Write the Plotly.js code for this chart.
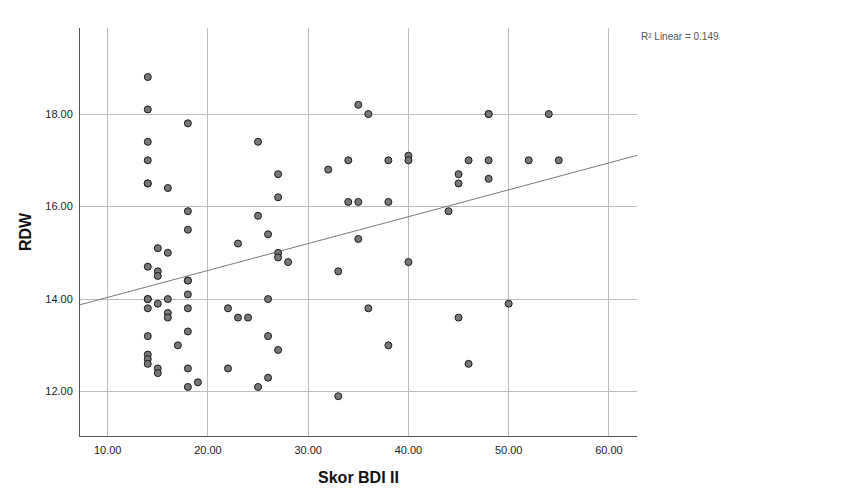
<!DOCTYPE html>
<html>
<head>
<meta charset="utf-8">
<script src="https://cdn.plot.ly/plotly-3.0.1.min.js"></script>
<style>
  body { margin: 0; background: #fff; }
  #chart { width: 851px; height: 501px; }
</style>
</head>
<body>
<div id="chart"></div>
<script>
// Skor BDI II vs RDW, one point per respondent
const skorBDI = [
    14, 14, 14, 14, 14, 14, 14, 14, 14, 14, 14, 14, 14, 14,
    15, 15, 15, 15, 15, 15,
    16, 16, 16, 16, 16,
    17,
    18, 18, 18, 18, 18, 18, 18, 18, 18, 18,
    19,
    22, 22,
    23, 23,
    24,
    25, 25, 25,
    26, 26, 26, 26,
    27, 27, 27, 27, 27,
    28,
    32,
    33, 33,
    34, 34,
    35, 35, 35,
    36, 36,
    38, 38, 38,
    40, 40, 40,
    44,
    45, 45, 45,
    46, 46,
    48, 48, 48, 48,
    50,
    52,
    54,
    55
];
const rdw = [
    18.8, 18.1, 17.4, 17.0, 16.5, 16.5, 14.7, 14.0, 14.0, 13.8, 13.2, 12.8, 12.7, 12.6,
    15.1, 14.6, 14.5, 13.9, 12.5, 12.4,
    16.4, 15.0, 14.0, 13.7, 13.6,
    13.0,
    17.8, 15.9, 15.5, 14.4, 14.4, 14.1, 13.8, 13.3, 12.5, 12.1,
    12.2,
    13.8, 12.5,
    15.2, 13.6,
    13.6,
    17.4, 15.8, 12.1,
    15.4, 14.0, 13.2, 12.3,
    16.7, 16.2, 15.0, 14.9, 12.9,
    14.8,
    16.8,
    14.6, 11.9,
    17.0, 16.1,
    18.2, 16.1, 15.3,
    18.0, 13.8,
    17.0, 16.1, 13.0,
    17.1, 17.0, 14.8,
    15.9,
    16.7, 16.5, 13.6,
    17.0, 12.6,
    18.0, 18.0, 17.0, 16.6,
    13.9,
    17.0,
    18.0,
    17.0
];
const xTicks = [10, 20, 30, 40, 50, 60];
const yTicks = [12, 14, 16, 18];
const xRange = [7.24, 62.8];
const yRange = [11.04, 19.86];
const r2Label = 'R² Linear = 0.149';

// Least squares fit line
function linearFit(xs, ys) {
    const n = xs.length;
    let sx = 0, sy = 0, sxy = 0, sxx = 0;
    for (let i = 0; i < n; i++) {
        sx += xs[i]; sy += ys[i];
        sxy += xs[i] * ys[i]; sxx += xs[i] * xs[i];
    }
    const slope = (n * sxy - sx * sy) / (n * sxx - sx * sx);
    const intercept = (sy - slope * sx) / n;
    return { slope, intercept };
}

const fit = linearFit(skorBDI, rdw);

const points = {
    x: skorBDI,
    y: rdw,
    type: 'scatter',
    mode: 'markers',
    marker: {
        size: 7,
        color: '#787878',
        line: { color: '#1a1a1a', width: 1 }
    },
    hoverinfo: 'x+y'
};

const fitLine = {
    x: xRange,
    y: xRange.map(v => fit.intercept + fit.slope * v),
    type: 'scatter',
    mode: 'lines',
    line: { color: '#7a7a7a', width: 1 },
    hoverinfo: 'skip'
};

const layout = {
    width: 851,
    height: 501,
    paper_bgcolor: '#ffffff',
    plot_bgcolor: '#ffffff',
    font: { family: 'Liberation Sans, Arial, sans-serif', color: '#222', size: 11 },
    margin: { l: 80, r: 214, t: 28, b: 65 },
    showlegend: false,
    xaxis: {
        range: xRange,
        tickvals: xTicks,
        ticktext: xTicks.map(v => v.toFixed(2)),
        showgrid: true,
        gridcolor: '#bdbdbd',
        gridwidth: 1,
        zeroline: false,
        showline: true,
        linecolor: '#555555',
        linewidth: 1,
        ticks: '',
        ticklabelstandoff: 4,
        title: { text: '<b>Skor BDI II</b>', font: { size: 16, color: '#111' }, standoff: 16 }
    },
    yaxis: {
        range: yRange,
        tickvals: yTicks,
        ticktext: yTicks.map(v => v.toFixed(2)),
        showgrid: true,
        gridcolor: '#bdbdbd',
        gridwidth: 1,
        zeroline: false,
        showline: true,
        linecolor: '#555555',
        linewidth: 1,
        ticks: '',
        ticklabelstandoff: 4,
        title: { text: '<b>RDW</b>', font: { size: 16, color: '#111' }, standoff: 9 }
    },
    annotations: [{
        xref: 'paper', yref: 'paper',
        x: 1.004, y: 0.98,
        xanchor: 'left', yanchor: 'middle',
        showarrow: false,
        text: r2Label,
        font: { size: 10, color: '#555' }
    }]
};

Plotly.newPlot('chart', [fitLine, points], layout, { displayModeBar: false, staticPlot: true });
</script>
</body>
</html>
